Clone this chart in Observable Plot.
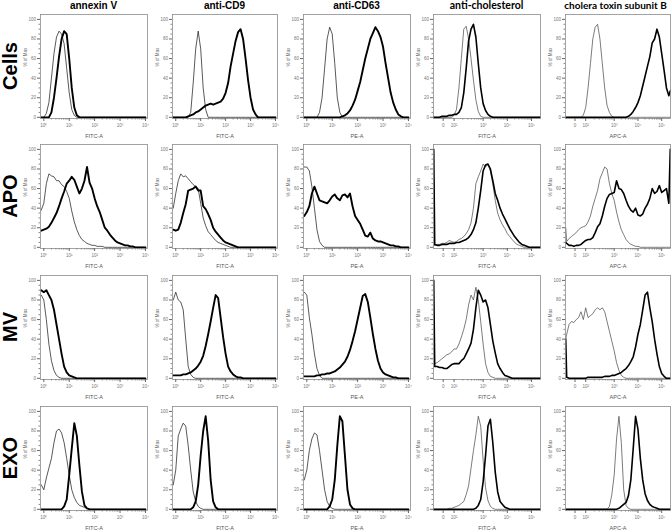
<!DOCTYPE html>
<html>
<head>
<meta charset="utf-8">
<script src="https://cdn.jsdelivr.net/npm/d3@7"></script>
<script src="https://cdn.jsdelivr.net/npm/@observablehq/plot@0.6"></script>
<style>
  html, body { margin: 0; padding: 0; background: #fff; }
  #root { position: relative; width: 672px; height: 532px; overflow: hidden; background: #fff; font-family: "Liberation Sans", Arial, sans-serif; }
  .hdr { position: absolute; top: 5px; transform: translate(-50%, -50%); white-space: nowrap; font-weight: 700; color: #000; }
  .rowlab { position: absolute; transform: translate(-50%, -50%) rotate(-90deg); white-space: nowrap; font-weight: 700; font-size: 20px; color: #000; font-family: "Liberation Sans", Arial, sans-serif; }
  svg.panel { position: absolute; overflow: visible; }
</style>
</head>
<body>
<div id="root"></div>
<script>
// ---------- categories / labels ----------
const columnTitles = ["annexin V", "anti-CD9", "anti-CD63", "anti-cholesterol", "cholera toxin subunit B"];
const rowTitles = ["Cells", "APO", "MV", "EXO"];
const channelLabels = ["FITC-A", "FITC-A", "PE-A", "FITC-A", "APC-A"];
const logTickLabels = ["10⁰", "10¹", "10²", "10³", "10⁴"];
const logTickValues = [0, 1, 2, 3, 4];
const biTickLabels = ["0", "10²", "10³", "10⁴", "10⁵"];
const biTickValues = [1.35, 1.8, 3, 4, 5];
const yTickValues = [0, 20, 40, 60, 80, 100];

// x positions (log10 decades) for the log-scaled channels
const gridLog = [-0.1, 0, 0.1, 0.2, 0.3, 0.4, 0.5, 0.6, 0.7, 0.8, 0.9, 1, 1.1, 1.2, 1.3, 1.4, 1.5, 1.6, 1.7, 1.8, 1.9, 2, 2.1, 2.2, 2.3, 2.4, 2.5, 2.6, 2.7, 2.8, 2.9, 3, 3.1, 3.2, 3.3, 3.4, 3.5, 3.6, 3.7, 3.8, 3.9, 4];
// x positions (display units) for the biexponential channels
const gridBi = [0.96, 1, 1.1, 1.2, 1.3, 1.4, 1.5, 1.6, 1.7, 1.8, 1.9, 2, 2.1, 2.2, 2.3, 2.4, 2.5, 2.6, 2.7, 2.8, 2.9, 3, 3.1, 3.2, 3.3, 3.4, 3.5, 3.6, 3.7, 3.8, 3.9, 4, 4.1, 4.2, 4.3, 4.4, 4.5, 4.6, 4.7, 4.8, 4.9, 5, 5.1, 5.2, 5.3, 5.36];

// ---------- series values (% of Max) ----------
// Row: Cells
const cellsAnnexinThin  = [0,0,4,15,40,65,82,88,85,75, 50,25,8,2,0,0,0,0,0,0, 0,0,0,0,0,0,0,0,0,0, 0,0,0,0,0,0,0,0,0,0, 0,0];
const cellsAnnexinThick = [0,0,0,0,5,20,40,62,80,88, 85,60,30,10,2,0,0,0,0,0, 0,0,0,0,0,0,0,0,0,0, 0,0,0,0,0,0,0,0,0,0, 0,0];
const cellsCD9Thin      = [0,0,0,0,0,0,0,5,35,70, 88,70,30,8,0,0,0,0,0,0, 0,0,0,0,0,0,0,0,0,0, 0,0,0,0,0,0,0,0,0,0, 0,0];
const cellsCD9Thick     = [0,0,0,0,0,0,1,2,3,5, 6,8,10,12,13,14,13,14,15,16, 19,25,35,52,65,78,87,90,80,60, 38,20,8,3,0,0,0,0,0,0, 0,0];
const cellsCD63Thin     = [0,0,0,0,0,0,5,20,50,80, 92,85,55,20,5,0,0,0,0,0, 0,0,0,0,0,0,0,0,0,0, 0,0,0,0,0,0,0,0,0,0, 0,0];
const cellsCD63Thick    = [0,0,0,0,0,0,0,0,0,0, 0,0,0,0,0,1,2,4,7,12, 18,27,36,48,60,70,80,86,92,88, 82,72,55,40,25,15,8,3,1,0, 0,0];
const cellsCholThin     = [0, 0,0,0,0,0,0,0,0,2,8, 30,60,90,93,80,60,38,18,6,1, 0,0,0,0,0,0,0,0,0,0, 0,0,0,0,0,0,0,0,0,0, 0,0,0,0, 0];
const cellsCholThick    = [0, 0,0,0,1,1,1,2,2,3,3, 5,10,25,50,78,90,95,82,55,30, 14,7,3,1,0,0,0,0,0,0, 0,0,0,0,0,0,0,0,0,0, 0,0,0,0, 0];
const cellsCtbThin      = [0, 0,0,0,0,0,0,0,2,10,30, 55,80,92,95,80,55,30,12,5,1, 0,0,0,0,0,0,0,0,0,0, 0,0,0,0,0,0,0,0,0,0, 0,0,0,0, 0];
const cellsCtbThick     = [0, 0,0,0,0,0,0,0,0,0,0, 0,0,0,0,0,0,0,0,0,0, 0,0,0,0,0,0,1,3,6,10, 15,22,32,42,52,62,76,80,90,82, 65,48,30,22, 27];
// Row: APO
const apoAnnexinThin    = [38,45,65,75,73,72,68,68,64,62, 57,50,37,26,18,12,8,6,4,3, 2,2,1,1,1,0,0,0,0,0, 0,0,0,0,0,0,0,0,0,0, 0,0];
const apoAnnexinThick   = [17,18,19,21,25,30,35,42,50,57, 65,68,72,69,62,55,60,68,82,66, 60,50,42,36,28,20,17,13,10,7, 5,4,3,2,2,1,1,0,0,0, 0,0];
const apoCD9Thin        = [40,55,68,75,72,73,70,67,64,62, 60,45,30,22,16,13,10,7,5,4, 3,2,1,0,0,0,0,0,0,0, 0,0,0,0,0,0,0,0,0,0, 0,0];
const apoCD9Thick       = [18,17,18,25,35,44,58,59,60,62, 58,58,42,39,34,28,20,16,13,10, 7,5,4,3,2,1,0,0,0,0, 0,0,0,0,0,0,0,0,0,0, 0,0];
const apoCD63Thin       = [82,82,78,62,40,18,6,2,0,0, 0,0,0,0,0,0,0,0,0,0, 0,0,0,0,0,0,0,0,0,0, 0,0,0,0,0,0,0,0,0,0, 0,0];
const apoCD63Thick      = [32,36,42,55,62,55,48,47,46,45, 48,52,54,50,48,53,54,51,55,42, 32,28,24,18,12,11,15,9,7,6, 6,5,4,3,2,2,1,1,0,0, 0,0];
const apoCholThin       = [2, 2,3,3,4,4,5,7,6,5,6, 8,9,11,14,18,25,40,65,72,78, 85,82,85,78,65,48,35,28,23,19, 14,11,8,5,3,2,1,0,0,0, 0,0,0,0, 0];
const apoCholThick      = [100, 3,2,2,3,3,3,4,4,4,5, 5,6,7,8,10,13,18,25,40,58, 78,84,85,80,68,55,48,40,34,29, 24,19,15,11,8,5,3,2,1,0, 0,0,0,0, 0];
const apoCtbThin        = [20, 6,9,11,13,15,18,20,21,22,26, 32,42,50,58,70,76,82,80,65,55, 48,36,26,18,13,8,5,3,2,1, 1,0,0,0,0,0,0,0,0,0, 0,0,0,0, 0];
const apoCtbThick       = [5, 4,2,2,1,2,2,3,5,7,8, 8,10,15,21,24,32,42,50,54,55, 56,68,60,59,55,48,42,38,36,40, 33,32,34,40,44,50,60,55,57,63, 56,58,60,45, 100];
// Row: MV
const mvAnnexinThin     = [85,80,60,35,18,8,3,1,0,0, 0,0,0,0,0,0,0,0,0,0, 0,0,0,0,0,0,0,0,0,0, 0,0,0,0,0,0,0,0,0,0, 0,0];
const mvAnnexinThick    = [90,88,90,85,80,70,55,40,25,12, 6,3,2,1,0,0,0,0,0,0, 0,0,0,0,0,0,0,0,0,0, 0,0,0,0,0,0,0,0,0,0, 0,0];
const mvCD9Thin         = [80,88,80,78,70,40,12,4,1,0, 0,0,0,0,0,0,0,0,0,0, 0,0,0,0,0,0,0,0,0,0, 0,0,0,0,0,0,0,0,0,0, 0,0];
const mvCD9Thick        = [3,3,3,3,4,4,5,6,8,10, 13,17,23,33,45,58,72,85,82,62, 42,25,12,7,4,2,1,1,0,0, 0,0,0,0,0,0,0,0,0,0, 0,0];
const mvCD63Thin        = [88,85,62,45,25,10,3,0,0,0, 0,0,0,0,0,0,0,0,0,0, 0,0,0,0,0,0,0,0,0,0, 0,0,0,0,0,0,0,0,0,0, 0,0];
const mvCD63Thick       = [2,2,2,2,2,3,3,4,4,5, 5,6,7,9,11,14,17,22,29,38, 48,60,72,84,86,78,62,45,30,18, 10,6,4,3,2,1,1,0,0,0, 0,0];
const mvCholThin        = [15, 15,16,18,20,22,24,25,27,30,30, 35,42,50,60,75,85,80,93,80,58, 35,15,6,2,1,0,0,0,0,0, 0,0,0,0,0,0,0,0,0,0, 0,0,0,0, 0];
const mvCholThick       = [100, 12,12,11,11,10,10,12,14,15,15, 15,18,20,25,30,36,50,72,90,85, 78,80,72,55,38,26,15,10,6,3, 2,1,0,0,0,0,0,0,0,0, 0,0,0,0, 0];
const mvCtbThin         = [40, 45,55,58,57,60,62,68,60,72,62, 64,66,70,72,70,72,68,58,48,38, 28,16,8,3,1,0,0,0,0,0, 0,0,0,0,0,0,0,0,0,0, 0,0,0,0, 0];
const mvCtbThick        = [40, 1,0,0,0,0,0,0,0,0,1, 1,1,1,1,1,1,2,2,2,3, 3,4,5,6,8,10,13,17,22,32, 45,55,70,85,88,72,58,40,25,12, 5,2,0,0, 0];
// Row: EXO
const exoAnnexinThin    = [25,20,32,42,52,68,80,82,78,68, 52,35,20,12,7,4,3,2,1,0, 0,0,0,0,0,0,0,0,0,0, 0,0,0,0,0,0,0,0,0,0, 0,0];
const exoAnnexinThick   = [0,0,0,0,0,0,0,0,0,3, 10,35,62,88,75,45,18,4,1,0, 0,0,0,0,0,0,0,0,0,0, 0,0,0,0,0,0,0,0,0,0, 0,0];
const exoCD9Thin        = [25,40,75,82,88,85,65,40,18,8, 3,1,0,0,0,0,0,0,0,0, 0,0,0,0,0,0,0,0,0,0, 0,0,0,0,0,0,0,0,0,0, 0,0];
const exoCD9Thick       = [0,0,0,0,0,0,0,0,2,8, 25,55,80,95,70,30,8,2,0,0, 0,0,0,0,0,0,0,0,0,0, 0,0,0,0,0,0,0,0,0,0, 0,0];
const exoCD63Thin       = [30,40,60,72,78,76,60,40,20,8, 3,1,0,0,0,0,0,0,0,0, 0,0,0,0,0,0,0,0,0,0, 0,0,0,0,0,0,0,0,0,0, 0,0];
const exoCD63Thick      = [0,0,0,0,0,0,0,0,0,0, 3,10,30,65,95,90,55,20,5,1, 0,0,0,0,0,0,0,0,0,0, 0,0,0,0,0,0,0,0,0,0, 0,0];
const exoCholThin       = [0, 0,0,0,0,0,0,1,1,2,3, 4,6,8,15,24,42,60,76,95,85, 50,22,9,3,1,0,0,0,0,0, 0,0,0,0,0,0,0,0,0,0, 0,0,0,0, 0];
const exoCholThick      = [0, 0,0,0,0,0,0,0,0,0,0, 0,0,0,0,0,0,0,1,4,10, 28,55,85,92,68,38,18,8,5,2, 1,0,0,0,0,0,0,0,0,0, 0,0,0,0, 0];
const exoCtbThin        = [0, 0,0,0,0,0,0,0,0,0,0, 0,0,0,0,0,0,0,0,3,15, 35,72,95,68,20,4,1,0,0,0, 0,0,0,0,0,0,0,0,0,0, 0,0,0,0, 0];
const exoCtbThick       = [0, 0,0,0,0,0,0,0,0,0,0, 0,0,0,0,0,0,0,0,0,0, 0,0,1,3,5,7,14,30,62,95, 82,52,30,16,9,5,3,2,1,0, 0,0,0,0, 0];

const seriesGrid = [
  [[cellsAnnexinThin, cellsAnnexinThick], [cellsCD9Thin, cellsCD9Thick], [cellsCD63Thin, cellsCD63Thick], [cellsCholThin, cellsCholThick], [cellsCtbThin, cellsCtbThick]],
  [[apoAnnexinThin, apoAnnexinThick], [apoCD9Thin, apoCD9Thick], [apoCD63Thin, apoCD63Thick], [apoCholThin, apoCholThick], [apoCtbThin, apoCtbThick]],
  [[mvAnnexinThin, mvAnnexinThick], [mvCD9Thin, mvCD9Thick], [mvCD63Thin, mvCD63Thick], [mvCholThin, mvCholThick], [mvCtbThin, mvCtbThick]],
  [[exoAnnexinThin, exoAnnexinThick], [exoCD9Thin, exoCD9Thick], [exoCD63Thin, exoCD63Thick], [exoCholThin, exoCholThick], [exoCtbThin, exoCtbThick]]
];

// ---------- layout ----------
const colLeft = [40, 172, 303, 433, 565];
const colWidth = [107, 105, 107, 107, 105];
const rowTop = [14, 144, 275, 406];
const frameH = 104;
const mL = 34, mR = 3, mT = 3, mB = 24;

const root = document.getElementById("root");

// minor tick positions (axis furniture)
const minorY = [5,10,15,25,30,35,45,50,55,65,70,75,85,90,95];
const minorLog = [];
for (let n = 0; n < 4; n++) for (let k = 2; k <= 9; k++) minorLog.push(n + Math.log10(k));
const minorBi = [];
for (let k = 2; k <= 9; k++) minorBi.push(1.8 + 1.2 * Math.log10(k));
for (let n = 3; n < 5; n++) for (let k = 2; k <= 9; k++) minorBi.push(n + Math.log10(k));

for (let r = 0; r < 4; r++) {
  for (let c = 0; c < 5; c++) {
    const bi = c >= 3;
    const grid = bi ? gridBi : gridLog;
    const [thin, thick] = seriesGrid[r][c];
    const data = grid.map((x, i) => ({x, thin: thin[i], thick: thick[i]}));
    const tickVals = bi ? biTickValues : logTickValues;
    const tickLabs = bi ? biTickLabels : logTickLabels;
    const labMap = new Map(tickVals.map((v, i) => [v, tickLabs[i]]));
    const W = colWidth[c];
    const svg = Plot.plot({
      width: mL + W + mR,
      height: mT + frameH + mB,
      marginLeft: mL, marginRight: mR, marginTop: mT, marginBottom: mB,
      x: {domain: bi ? [0.95, 5.37] : [-0.13, 4.08]},
      y: {domain: [-1.2, 105]},
      style: {fontFamily: "Liberation Sans, Arial, sans-serif", background: "transparent", overflow: "visible"},
      marks: [
        Plot.line(data, {x: "x", y: "thin", stroke: bi ? "#444" : "#111", strokeWidth: 0.7}),
        Plot.line(data, {x: "x", y: "thick", stroke: "#000", strokeWidth: bi ? 1.6 : 1.9}),
        Plot.frame({stroke: "#8c8c8c", strokeWidth: 0.8}),
        Plot.axisY({ticks: yTickValues, tickSize: 3, tickPadding: 1.5, fontSize: 4.5, label: null, stroke: "#666", fill: "#777"}),
        Plot.axisY({ticks: minorY, tickSize: 1.5, tickFormat: () => "", label: null, stroke: "#888"}),
        Plot.axisX({ticks: tickVals, tickSize: 3, tickPadding: 2, fontSize: 4.5, tickFormat: d => labMap.get(d), label: null, stroke: "#666", fill: "#777"}),
        Plot.axisX({ticks: bi ? minorBi : minorLog, tickSize: 1.5, tickFormat: () => "", label: null, stroke: "#888"}),
        Plot.text(["% of Max"], {frameAnchor: "left", rotate: -90, dx: -15, fontSize: 4.5, fill: "#666"}),
        Plot.text([channelLabels[c]], {frameAnchor: "bottom", dy: 19, fontSize: 5.5, fill: "#555"})
      ]
    });
    svg.classList.add("panel");
    svg.style.left = (colLeft[c] - mL) + "px";
    svg.style.top = (rowTop[r] - mT) + "px";
    root.appendChild(svg);
  }
}

// column headers
const hdrFonts = ["Liberation Sans", "Liberation Sans", "Liberation Sans", "Lato", "Lato"];
const hdrSizes = [10, 10, 10, 10.5, 10];
const hdrShift = [0, 0, 0, 0, -2];
columnTitles.forEach((t, c) => {
  const d = document.createElement("div");
  d.className = "hdr";
  d.textContent = t;
  d.style.left = (colLeft[c] + colWidth[c] / 2 + hdrShift[c]) + "px";
  d.style.fontFamily = hdrFonts[c] + ", Arial, sans-serif";
  d.style.fontSize = hdrSizes[c] + "px";
  root.appendChild(d);
});

// row labels
rowTitles.forEach((t, r) => {
  const d = document.createElement("div");
  d.className = "rowlab";
  d.textContent = t;
  d.style.left = "10px";
  d.style.top = (rowTop[r] + frameH / 2) + "px";
  root.appendChild(d);
});
</script>
</body>
</html>
